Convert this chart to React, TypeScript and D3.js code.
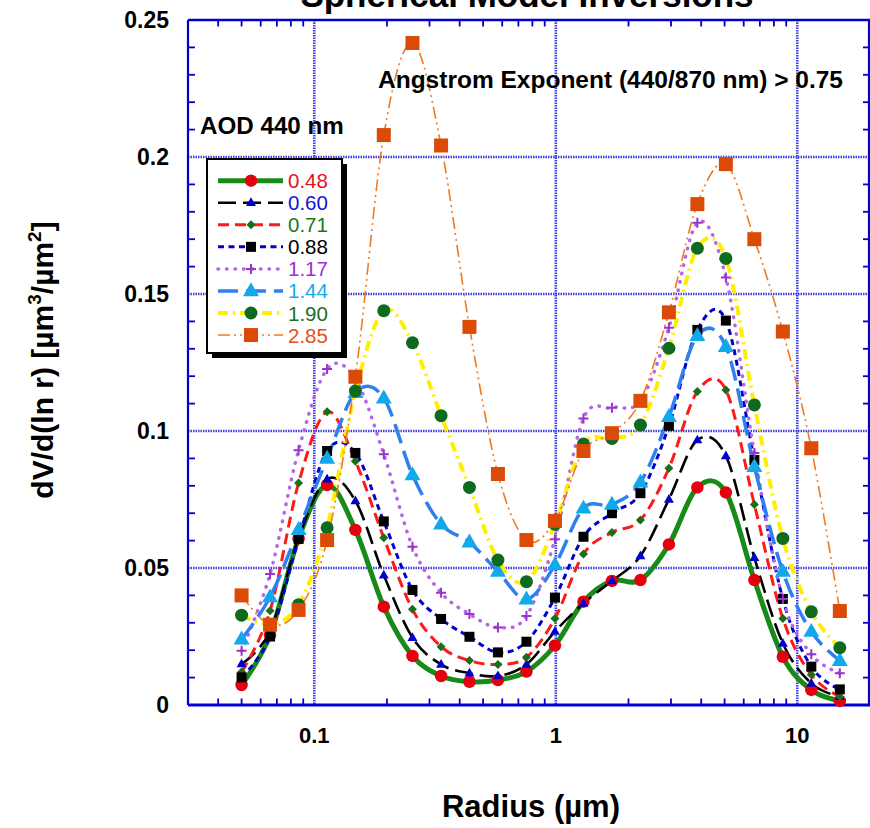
import React from "react";
import * as d3 from "d3";

// ---------- DATA ----------
const radii = [0.05, 0.0656, 0.0861, 0.113, 0.148, 0.194, 0.255, 0.335, 0.439, 0.576, 0.756, 0.992, 1.302, 1.708, 2.241, 2.94, 3.857, 5.061, 6.641, 8.713, 11.43, 15.0];

const aod048 = [0.0073, 0.0255, 0.0608, 0.0803, 0.0639, 0.0359, 0.0179, 0.0106, 0.0085, 0.0091, 0.0122, 0.0217, 0.0377, 0.0453, 0.0456, 0.0586, 0.0794, 0.0776, 0.0456, 0.0176, 0.0055, 0.0015];
const aod060 = [0.015, 0.027, 0.061, 0.0824, 0.0745, 0.0474, 0.0246, 0.0148, 0.0116, 0.0106, 0.0148, 0.0268, 0.0371, 0.0453, 0.0544, 0.075, 0.0967, 0.0909, 0.0538, 0.0225, 0.0079, 0.003];
const aod071 = [0.012, 0.0344, 0.081, 0.107, 0.089, 0.061, 0.0349, 0.0213, 0.0162, 0.0148, 0.0174, 0.0316, 0.0551, 0.063, 0.0675, 0.0864, 0.1144, 0.115, 0.0732, 0.0316, 0.011, 0.003];
const aod088 = [0.0101, 0.025, 0.0606, 0.0927, 0.092, 0.067, 0.042, 0.0314, 0.0249, 0.0192, 0.0231, 0.0392, 0.0614, 0.07, 0.0773, 0.1019, 0.1369, 0.1403, 0.0894, 0.0387, 0.014, 0.0057];
const aod117 = [0.0198, 0.0478, 0.093, 0.1226, 0.119, 0.0915, 0.0578, 0.041, 0.0332, 0.0283, 0.0325, 0.0605, 0.1046, 0.1085, 0.111, 0.1377, 0.176, 0.156, 0.092, 0.0387, 0.0185, 0.0116];
const aod144 = [0.024, 0.0394, 0.064, 0.09, 0.114, 0.112, 0.084, 0.066, 0.0594, 0.0487, 0.0386, 0.0511, 0.0718, 0.0732, 0.0813, 0.1052, 0.1348, 0.1308, 0.087, 0.0487, 0.0268, 0.0162];
const aod190 = [0.0328, 0.0295, 0.0366, 0.0647, 0.1146, 0.1439, 0.1322, 0.1056, 0.0794, 0.0529, 0.045, 0.066, 0.0953, 0.0973, 0.1022, 0.1302, 0.1667, 0.163, 0.1095, 0.0608, 0.034, 0.0209];
const aod285 = [0.04, 0.0293, 0.0347, 0.0602, 0.1198, 0.208, 0.2416, 0.2042, 0.138, 0.0843, 0.0602, 0.0672, 0.0927, 0.0992, 0.111, 0.1433, 0.1828, 0.1974, 0.17, 0.1363, 0.0937, 0.0343];

const seriesLabels = ["0.48", "0.60", "0.71", "0.88", "1.17", "1.44", "1.90", "2.85"];
const seriesValues = [aod048, aod060, aod071, aod088, aod117, aod144, aod190, aod285];

const yTickValues = [0, 0.05, 0.1, 0.15, 0.2, 0.25];
const yTickLabels = ["0", "0.05", "0.1", "0.15", "0.2", "0.25"];
const xTickValues = [0.1, 1, 10];
const xTickLabels = ["0.1", "1", "10"];

const titleText = "Spherical Model Inversions";
const noteText = "Angstrom Exponent (440/870 nm) > 0.75";
const legendTitle = "AOD 440 nm";

// ---------- STYLES ----------
type MarkerKind = "circle" | "triangle" | "diamond" | "square" | "plus";
interface Sty {
  line: string; width: number; dash?: string; cap?: string;
  marker: MarkerKind; mcolor: string; msize: number; text: string;
}
const styles: Sty[] = [
  { line: "#178a17", width: 5, marker: "circle", mcolor: "#e6000f", msize: 12.5, text: "#e8101a" },
  { line: "#000000", width: 2.6, dash: "18,7", marker: "triangle", mcolor: "#0000cc", msize: 10, text: "#1414d8" },
  { line: "#ff1a1a", width: 3, dash: "11,6", marker: "diamond", mcolor: "#1a6e1a", msize: 9, text: "#1a7a1a" },
  { line: "#0000d0", width: 3, dash: "6,4.5", marker: "square", mcolor: "#000000", msize: 10, text: "#000000" },
  { line: "#b366e6", width: 3.5, dash: "0.5,8", cap: "round", marker: "plus", mcolor: "#9933cc", msize: 10, text: "#9b30d9" },
  { line: "#2f7fef", width: 3.5, dash: "20,8", marker: "triangle", mcolor: "#12a8ec", msize: 16, text: "#12aaee" },
  { line: "#ffee00", width: 4, dash: "10,5,2,5", marker: "circle", mcolor: "#0d6a1e", msize: 13, text: "#1a6e2a" },
  { line: "#f07a22", width: 1.6, dash: "12,4,2,4,2,4", marker: "square", mcolor: "#dc4a08", msize: 14, text: "#e0541c" },
];

const FONT = "'Liberation Sans', Arial, Helvetica, sans-serif";
const AXIS = "#0000cc";
const GRID = "#4040dd";

function Marker({ kind, x, y, color, size }: { kind: MarkerKind; x: number; y: number; color: string; size: number }) {
  const h = size / 2;
  if (kind === "circle") return <circle cx={x} cy={y} r={h} fill={color} />;
  if (kind === "square") return <rect x={x - h} y={y - h} width={size} height={size} fill={color} />;
  if (kind === "diamond") return <path d={`M${x},${y - h}L${x + h},${y}L${x},${y + h}L${x - h},${y}Z`} fill={color} />;
  if (kind === "triangle") {
    const th = size * 0.87;
    return <path d={`M${x},${y - th * 0.62}L${x + h},${y + th * 0.38}L${x - h},${y + th * 0.38}Z`} fill={color} />;
  }
  return (
    <path d={`M${x - h},${y}L${x + h},${y}M${x},${y - h}L${x},${y + h}`} stroke={color} strokeWidth={2} fill="none" />
  );
}

export default function App() {
  const W = 870, H = 828;
  const x = d3.scaleLog().domain([0.03, 20]).range([188, 870]);
  const y = d3.scaleLinear().domain([0, 0.25]).range([705, 20]);
  const [x0, x1] = x.range();
  const [yb, yt] = y.range();

  const line = d3
    .line<number>()
    .x((_, i) => x(radii[i]))
    .y((d) => y(d))
    .curve(d3.curveCardinal.tension(0));

  // minor ticks
  const yMinor = d3.range(1, 25).map((k) => k * 0.01).filter((v) => Math.abs(v * 20 - Math.round(v * 20)) > 1e-6);
  const xMinor: number[] = [];
  for (let e = -2; e <= 1; e++) for (let k = 2; k <= 9; k++) {
    const v = k * Math.pow(10, e);
    if (v >= 0.03 && v <= 20) xMinor.push(v);
  }

  const legX = 207, legY = 159, legW = 135, legH = 194;
  const rowY = (i: number) => 180.7 + i * 22.05;

  return (
    <svg width={W} height={H} style={{ position: "absolute", left: 0, top: 0, background: "#fff" }} fontFamily={FONT}>
      <rect x={0} y={0} width={W} height={H} fill="#ffffff" />
      {/* gridlines */}
      {yTickValues.filter((v) => v > 0 && v < 0.25).map((v) => (
        <line key={"gy" + v} x1={x0} x2={x1} y1={y(v)} y2={y(v)} stroke={GRID} strokeWidth={2.6} strokeDasharray="1.5,1" />
      ))}
      {xTickValues.map((v) => (
        <line key={"gx" + v} x1={x(v)} x2={x(v)} y1={yt} y2={yb} stroke={GRID} strokeWidth={2.6} strokeDasharray="1.5,1" />
      ))}

      {/* ticks */}
      {yMinor.map((v) => (
        <g key={"ym" + v}>
          <line x1={x0} x2={x0 + 7} y1={y(v)} y2={y(v)} stroke={AXIS} strokeWidth={1.8} />
          <line x1={x1} x2={x1 - 7} y1={y(v)} y2={y(v)} stroke={AXIS} strokeWidth={1.8} />
        </g>
      ))}
      {xMinor.map((v) => (
        <g key={"xm" + v}>
          <line x1={x(v)} x2={x(v)} y1={yb} y2={yb - 6.5} stroke={AXIS} strokeWidth={1.8} />
          <line x1={x(v)} x2={x(v)} y1={yt} y2={yt + 6.5} stroke={AXIS} strokeWidth={1.8} />
        </g>
      ))}

      {/* axes frame */}
      <line x1={x0} x2={x0} y1={yt} y2={yb} stroke={AXIS} strokeWidth={2.2} />
      <line x1={x1 - 1} x2={x1 - 1} y1={yt} y2={yb} stroke={AXIS} strokeWidth={2.2} />
      <line x1={x0} x2={x1} y1={yb} y2={yb} stroke={AXIS} strokeWidth={2.8} />
      <line x1={x0} x2={x1} y1={yt} y2={yt} stroke={AXIS} strokeWidth={2.4} />

      {/* tick labels */}
      {yTickValues.map((v, i) => (
        <text key={"yl" + v} x={169} y={y(v) + 8} textAnchor="end" fontSize={23} fontWeight="bold" fill="#000">
          {yTickLabels[i]}
        </text>
      ))}
      {xTickValues.map((v, i) => (
        <text key={"xl" + v} x={x(v)} y={743} textAnchor="middle" fontSize={22} fontWeight="bold" fill="#000">
          {xTickLabels[i]}
        </text>
      ))}

      {/* series lines */}
      {seriesValues.map((vals, si) => {
        const s = styles[si];
        return (
          <path key={"l" + si} d={line(vals) || ""} fill="none" stroke={s.line} strokeWidth={s.width}
            strokeDasharray={s.dash} strokeLinecap={(s.cap as any) || "butt"} strokeLinejoin="round" />
        );
      })}
      {/* markers */}
      {seriesValues.map((vals, si) => {
        const s = styles[si];
        return (
          <g key={"m" + si}>
            {vals.map((v, i) => (
              <Marker key={i} kind={s.marker} x={x(radii[i])} y={y(v)} color={s.mcolor} size={s.msize} />
            ))}
          </g>
        );
      })}

      {/* title and notes */}
      <text x={527} y={7} textAnchor="middle" fontSize={35} fontWeight="bold" fill="#000">{titleText}</text>
      <text x={378} y={88} fontSize={24.5} fontWeight="bold" fill="#000">{noteText}</text>
      <text x={200} y={134} fontSize={24.2} fontWeight="bold" fill="#000">{legendTitle}</text>

      {/* legend */}
      <rect x={legX + 5} y={legY + 5} width={legW} height={legH} fill="#000" />
      <rect x={legX} y={legY} width={legW} height={legH} fill="#fff" stroke="#000" strokeWidth={2} />
      {seriesLabels.map((lab, i) => {
        const s = styles[i];
        const ry = rowY(i);
        return (
          <g key={"lg" + i}>
            <line x1={218} x2={283} y1={ry} y2={ry} stroke={s.line} strokeWidth={s.width}
              strokeDasharray={s.dash} strokeLinecap={(s.cap as any) || "butt"} />
            <Marker kind={s.marker} x={251} y={ry} color={s.mcolor} size={s.msize} />
            <text x={288} y={ry + 7.5} fontSize={20.5} fill={s.text}>{lab}</text>
          </g>
        );
      })}

      {/* axis titles */}
      <text x={531} y={817} textAnchor="middle" fontSize={31} fontWeight="bold" fill="#000">Radius (µm)</text>
      <text transform="translate(53,360) rotate(-90)" textAnchor="middle" fontSize={30} fontWeight="bold" fill="#000">
        dV/d(ln r) [µm<tspan fontSize={19} dy={-12}>3</tspan><tspan dy={12}>/µm</tspan><tspan fontSize={19} dy={-12}>2</tspan><tspan dy={12}>]</tspan>
      </text>
    </svg>
  );
}
